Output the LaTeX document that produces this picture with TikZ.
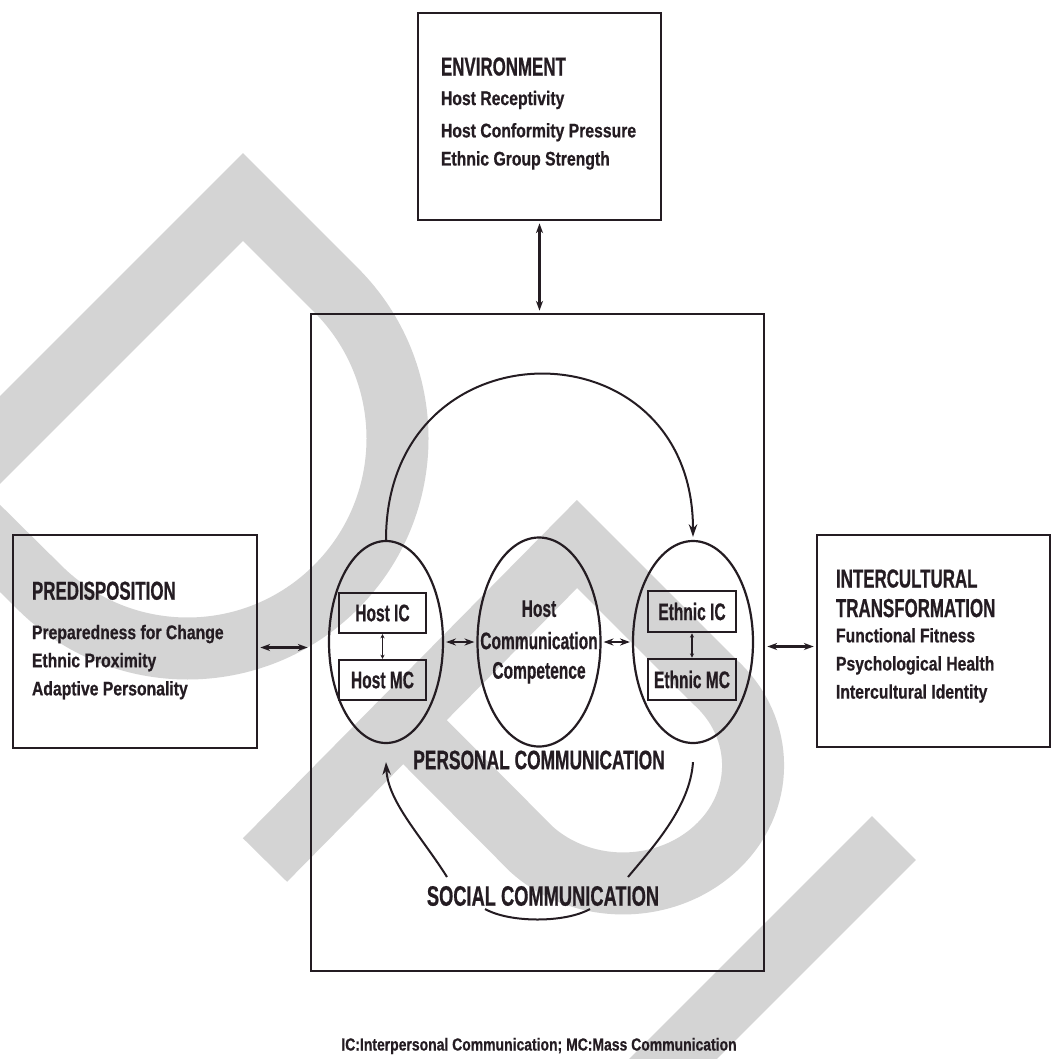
\documentclass[tikz,border=0pt]{standalone}
\usepackage{fontspec}
\setmainfont{Liberation Sans}
\newfontfamily\bodyfont{Liberation Sans}[FakeStretch=0.8, FakeBold=0.6]
\newfontfamily\headfont{Liberation Sans}[FakeStretch=0.65, FakeBold=0.6]
\usetikzlibrary{arrows.meta,shapes.geometric}

\newlength\px
\setlength\px{0.025cm}
\newcommand\heading[1]{{\headfont\fontsize{18.5}{20}\selectfont #1}}

\definecolor{ink}{RGB}{36,28,34}
\definecolor{wmgrey}{RGB}{212,212,212}

\tikzset{
  panel/.style={draw=ink, line width=2.6\px, inner sep=0pt},
  blurb/.style={anchor=west, align=left, inner sep=0pt, text=ink,
    font=\bodyfont\bfseries\fontsize{14}{20}\selectfont},
  bubble/.style={draw=ink, line width=2.2\px, ellipse, inner sep=0pt},
  tag/.style={draw=ink, line width=2.2\px, inner sep=0pt, text=ink,
    font=\headfont\bfseries\fontsize{17}{18}\selectfont},
  link/.style={draw=ink, line width=2.2\px, shorten <=2\px, shorten >=2\px,
    {Stealth[length=7pt,width=5pt]}-{Stealth[length=7pt,width=5pt]}},
  flow/.style={draw=ink, line width=2\px, -{Stealth[length=9pt,width=6pt]}},
  curve/.style={draw=ink, line width=2\px},
  caption/.style={text=ink, inner sep=0pt, font=\headfont\bfseries\fontsize{19}{20}\selectfont},
  wm/.style={draw=wmgrey, line width=62\px, line join=miter, line cap=butt},
}

\begin{document}
\begin{tikzpicture}[x=\px, y=-\px]
  %%%%% START %%%%%
  \fill[white] (0,0) rectangle (1053,1059);
  \useasboundingbox (0,0) rectangle (1053,1059);

  % watermark letters
  \begin{scope}
    \clip (0,0) rectangle (1053,1059);
    \draw[wm] (-85,525) -- (243,197) -- (336,290)
      arc[start angle=-45, end angle=135, radius=210] -- (-55,494);
    \draw[wm] (265,860) -- (577,544) -- (715,682)
      arc[start angle=-45, end angle=135, x radius=130, y radius=118] -- (403,720);
    \draw[wm] (894,838) -- (560,1172);
  \end{scope}

  % outer boxes
  \node[panel, minimum width=243\px, minimum height=207\px] (env) at (539.5,116.5) {};
  \node[panel, minimum width=244\px, minimum height=213\px] (pred) at (135,641.5) {};
  \node[panel, minimum width=233\px, minimum height=212\px] (trans) at (933.5,641) {};
  \node[panel, minimum width=453\px, minimum height=657\px] (main) at (537.5,642.5) {};

  \node[blurb] (envtext) at ([xshift=24\px, yshift=3\px]env.west)
    {\heading{ENVIRONMENT}\\[1pt] Host Receptivity\\[3pt] Host Conformity Pressure\\ Ethnic Group Strength};
  \node[blurb] (predtext) at ([xshift=20\px, yshift=1\px]pred.west)
    {\heading{PREDISPOSITION}\\[8pt] Preparedness for Change\\ Ethnic Proximity\\ Adaptive Personality};
  \node[blurb] (transtext) at ([xshift=20\px, yshift=5\px]trans.west)
    {\heading{INTERCULTURAL}\\[1pt] \heading{TRANSFORMATION}\\[-2pt] Functional Fitness\\ Psychological Health\\ Intercultural Identity};

  % personal communication
  \node[bubble, minimum width=114\px, minimum height=202\px] (host) at (386,642) {};
  \node[bubble, minimum width=123\px, minimum height=209\px] (hcc) at (539,642) {};
  \node[bubble, minimum width=120\px, minimum height=202\px] (ethnic) at (693,642) {};
  \node[text=ink, align=center, inner sep=0pt, font=\headfont\bfseries\fontsize{17}{21}\selectfont] (hccl) at (hcc)
    {Host\\[2pt] Communication\\ Competence};

  \node[tag, minimum width=87\px, minimum height=40\px] (hic) at (382.5,613) {Host IC};
  \node[tag, minimum width=87\px, minimum height=40\px] (hmc) at (382.5,680) {Host MC};
  \node[tag, line width=2.8\px, minimum width=88\px, minimum height=41\px] (eic) at (692,611.5) {Ethnic IC};
  \node[tag, line width=2.8\px, minimum width=88\px, minimum height=41\px] (emc) at (692,679.5) {Ethnic MC};

  \node[caption] (personal) at (539,760) {PERSONAL COMMUNICATION};
  \node[caption, font=\headfont\bfseries\fontsize{20}{20}\selectfont] (social) at (543,896) {SOCIAL COMMUNICATION};
  \node[text=ink, inner sep=0pt, font=\bodyfont\bfseries\fontsize{12.4}{14}\selectfont] (legend) at (539,1046)
    {IC:Interpersonal Communication; MC:Mass Communication};

  % arrows between blocks
  \draw[link] (env.south) -- (env.south |- main.north);
  \draw[link] ([yshift=-6\px]pred.east) -- ([yshift=-6\px]pred.east -| main.west);
  \draw[link] ([yshift=-4\px]main.east) -- ([yshift=-4\px]main.east -| trans.west);
  \draw[link] (host.east) -- (hcc.west);
  \draw[link] (hcc.east) -- (ethnic.west);
  \draw[draw=ink, line width=1.6\px, {Stealth[length=3pt,width=3pt]}-{Stealth[length=3pt,width=3pt]}] (hic.south) -- (hmc.north);
  \draw[draw=ink, line width=1.6\px, {Stealth[length=3pt,width=3pt]}-{Stealth[length=3pt,width=3pt]}] (eic.south) -- (emc.north);

  % the communication loop
  \draw[flow, shorten >=3\px] (host.north) .. controls +(0,-220) and +(0,-220) .. (ethnic.north);
  \coordinate (socl) at (447,877);
  \coordinate (socr) at (628,877);
  \coordinate (sagl) at (485,909);
  \coordinate (sagr) at (590,909);
  \draw[flow] (socl) .. controls +(-25,-40) and +(2,40) .. ([yshift=-18\px]host.south);
  \draw[curve] ([yshift=-18\px]ethnic.south) .. controls +(-3,45) and +(25,-30) .. (socr);
  \draw[curve] (sagl) .. controls +(25,14) and +(-25,14) .. (sagr);
  %%%%% END %%%%%
\end{tikzpicture}
\end{document}
